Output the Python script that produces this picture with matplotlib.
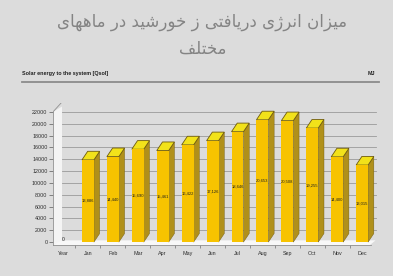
import matplotlib
matplotlib.use("Agg")
import matplotlib.pyplot as plt
from matplotlib.patches import Polygon, Rectangle

# Données
mois = ['Year', 'Jan', 'Feb', 'Mar', 'Apr', 'May', 'Jun', 'Jul', 'Aug', 'Sep', 'Oct', 'Nov', 'Dec']
valeurs = [0, 13886, 14440, 15690, 15461, 16422, 17126, 18646, 20653, 20508, 19255, 14400, 13015]
etiquettes = ['0', '13,886', '14,440', '15,690', '15,461', '16,422', '17,126', '18,646',
              '20,653', '20,508', '19,255', '14,400', '13,015']
graduations = list(range(0, 22001, 2000))

titre_1 = 'میزان انرژی دریافتی ز خورشید در ماههای'
titre_2 = 'مختلف'
sous_titre = 'Solar energy to the system [Qsol]'
unite = 'MJ'

# Mise en forme minimale de l'écriture arabe/persane (formes de présentation)
# (isolée, finale, initiale, médiane) ; None = lettre qui ne se lie pas à gauche
formes = {
    'ا': ('\uFE8D', '\uFE8E', None, None),
    'ب': ('\uFE8F', '\uFE90', '\uFE91', '\uFE92'),
    'ت': ('\uFE95', '\uFE96', '\uFE97', '\uFE98'),
    'خ': ('\uFEA5', '\uFEA6', '\uFEA7', '\uFEA8'),
    'د': ('\uFEA9', '\uFEAA', None, None),
    'ر': ('\uFEAD', '\uFEAE', None, None),
    'ز': ('\uFEAF', '\uFEB0', None, None),
    'ژ': ('\uFB8A', '\uFB8B', None, None),
    'س': ('\uFEB1', '\uFEB2', '\uFEB3', '\uFEB4'),
    'ش': ('\uFEB5', '\uFEB6', '\uFEB7', '\uFEB8'),
    'ف': ('\uFED1', '\uFED2', '\uFED3', '\uFED4'),
    'ل': ('\uFEDD', '\uFEDE', '\uFEDF', '\uFEE0'),
    'م': ('\uFEE1', '\uFEE2', '\uFEE3', '\uFEE4'),
    'ن': ('\uFEE5', '\uFEE6', '\uFEE7', '\uFEE8'),
    'ه': ('\uFEE9', '\uFEEA', '\uFEEB', '\uFEEC'),
    'و': ('\uFEED', '\uFEEE', None, None),
    'ی': ('\uFBFC', '\uFBFD', '\uFBFE', '\uFBFF'),
}


def faconner(texte):
    res = []
    for k, c in enumerate(texte):
        if c not in formes:
            res.append(c)
            continue
        av = texte[k - 1] if k > 0 else ''
        ap = texte[k + 1] if k + 1 < len(texte) else ''
        lie_av = av in formes and formes[av][2] is not None
        lie_ap = ap in formes and formes[c][2] is not None
        f = formes[c]
        if lie_av and lie_ap:
            res.append(f[3])
        elif lie_av:
            res.append(f[1])
        elif lie_ap:
            res.append(f[2])
        else:
            res.append(f[0])
    return ''.join(res)[::-1]


fond = '#dcdcdc'
face = '#f7c300'
cote = '#b0901a'
dessus = '#f2e21a'
bord = '#6e5a0e'

fig = plt.figure(figsize=(3.93, 2.76), dpi=100, facecolor=fond)

fig.text(0.515, 0.922, faconner(titre_1), ha='center', va='center', fontsize=12,
         color='#848484', family='DejaVu Sans')
fig.text(0.515, 0.822, faconner(titre_2), ha='center', va='center', fontsize=12,
         color='#848484', family='DejaVu Sans')
fig.text(0.056, 0.735, sous_titre, ha='left', va='center', fontsize=3.9,
         color='#202020', family='Liberation Sans', fontweight='bold')
fig.text(0.955, 0.735, unite, ha='right', va='center', fontsize=3.9,
         color='#202020', family='Liberation Sans', fontweight='bold')
fig.add_artist(plt.Line2D([0.056, 0.965], [0.703, 0.703], color='#8c8c8c', lw=1.3))

ax = fig.add_axes([0.135, 0.112, 0.827, 0.515])
ax.set_facecolor('none')
x0, x1 = -0.4, 12.64
ax.set_xlim(x0, x1)
ax.set_ylim(-500, 23500)

w = 0.48     # largeur face avant
dx = 0.23    # profondeur en x
dy = 1450    # profondeur en y
dxm = 0.36   # profondeur du mur

# mur gauche
ax.add_patch(Polygon([(x0, -500), (x0 + dxm, 0), (x0 + dxm, graduations[-1] + 900),
                      (x0, graduations[-1])], closed=True, fc='#f4f4f4', ec='none', zorder=1))
ax.plot([x0, x0 + dxm * 0.9], [graduations[-1], graduations[-1] + 1500], color='#909090', lw=0.6, zorder=2)

# lignes de grille
for g in graduations[1:]:
    ax.plot([x0 + dxm, x1 - 0.1], [g, g], color='#9a9a9a', lw=0.6, zorder=1)

# sol
ax.add_patch(Polygon([(x0, -500), (x1 - 0.1 - dx, -500), (x1 - 0.1, 300), (x0 + dxm, 300)],
                     closed=True, fc='#f8f8f8', ec='none', zorder=1))

for i, v in enumerate(valeurs):
    if v > 0:
        ax.add_patch(Polygon([(i + w / 2, 0), (i + w / 2 + dx, dy), (i + w / 2 + dx, v + dy), (i + w / 2, v)],
                             closed=True, fc=cote, ec=bord, lw=0.3, zorder=3))
        ax.add_patch(Polygon([(i - w / 2, v), (i + w / 2, v), (i + w / 2 + dx, v + dy), (i - w / 2 + dx, v + dy)],
                             closed=True, fc=dessus, ec=bord, lw=0.6, zorder=3))
        ax.add_patch(Rectangle((i - w / 2, 0), w, v, fc=face, ec='none', zorder=3))
        ax.text(i, v / 2, etiquettes[i], ha='center', va='center', fontsize=3.0,
                color='#202020', family='Liberation Sans', zorder=4)
    else:
        ax.text(i, 500, etiquettes[i], ha='center', va='center', fontsize=3.6,
                color='#202020', family='Liberation Sans', zorder=4)

for s in ['top', 'right']:
    ax.spines[s].set_visible(False)
ax.spines['left'].set_color('#909090')
ax.spines['left'].set_linewidth(0.6)
ax.spines['left'].set_bounds(-500, graduations[-1])
ax.spines['bottom'].set_color('#909090')
ax.spines['bottom'].set_linewidth(0.6)
ax.spines['bottom'].set_bounds(x0, x1 - 0.3)

ax.set_yticks(graduations)
ax.set_yticklabels([str(g) for g in graduations], fontsize=3.9, family='Liberation Sans', color='#303030')
ax.tick_params(axis='y', length=3, width=0.6, color='#707070', pad=1)
ax.set_xticks(range(len(mois)))
ax.set_xticklabels(mois, fontsize=3.9, family='Liberation Sans', color='#303030')
ax.set_xticks([i + 0.5 for i in range(len(mois) - 1)], minor=True)
ax.tick_params(axis='x', which='major', length=0, pad=4)
ax.tick_params(axis='x', which='minor', length=2.5, width=0.5, color='#707070')

plt.savefig('out.png', dpi=100, facecolor=fond)
